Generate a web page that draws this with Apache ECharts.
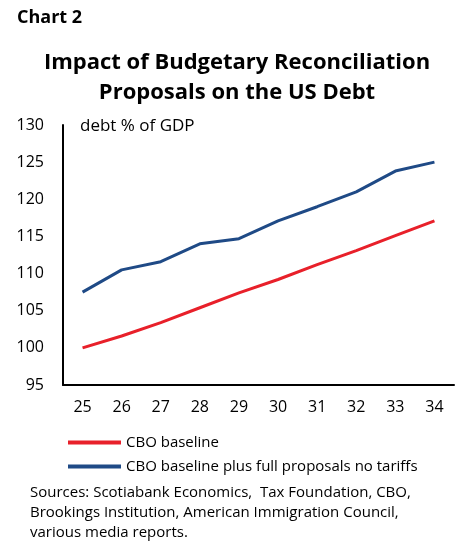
<!DOCTYPE html>
<html>
<head>
<meta charset="utf-8">
<script src="https://cdn.jsdelivr.net/npm/echarts@6/dist/echarts.min.js"></script>
<style>
  html, body { margin: 0; padding: 0; background: #fff; }
  #chart { width: 458px; height: 550px; }
</style>
</head>
<body>
<div id="chart"></div>
<script>
// years (20xx)
const years = ['25', '26', '27', '28', '29', '30', '31', '32', '33', '34']
// CBO baseline, debt % of GDP
const baseline = [100, 101.6, 103.4, 105.4, 107.4, 109.2, 111.2, 113.1, 115.1, 117.1]
// CBO baseline plus full proposals no tariffs
const fullProposals = [107.5, 110.5, 111.6, 114.0, 114.7, 117.1, 119.0, 121.0, 123.8, 125.0]
const seriesNames = ['CBO baseline', 'CBO baseline plus full proposals no tariffs']

const font = 'Open Sans'
const chart = echarts.init(document.getElementById('chart'))

chart.setOption({
  animation: false,
  textStyle: { fontFamily: font, color: '#000' },
  title: [
    {
      text: 'Chart 2',
      left: 12,
      top: 4,
      textStyle: { fontFamily: font, fontSize: 18, fontWeight: 'bold', color: '#000' }
    },
    {
      // centred lines, whole block a little right of the page centre
      text: 'Impact of Budgetary Reconciliation\nProposals on the US Debt',
      left: 232,
      top: 43,
      textAlign: 'center',
      textStyle: { fontFamily: font, fontSize: 22, fontWeight: 'bold', color: '#000', lineHeight: 30 }
    },
    {
      text: 'debt % of GDP',
      left: 75,
      top: 113,
      textStyle: { fontFamily: font, fontSize: 17, fontWeight: 'normal', color: '#000' }
    },
    {
      text: 'Sources: Scotiabank Economics,  Tax Foundation, CBO,\nBrookings Institution, American Immigration Council,\nvarious media reports.',
      left: 25,
      top: 478,
      textStyle: { fontFamily: font, fontSize: 15, fontWeight: 'normal', color: '#000', lineHeight: 20 }
    }
  ],
  legend: {
    orient: 'vertical',
    left: 63,
    top: 430,
    icon: 'rect',
    itemWidth: 53,
    itemHeight: 4,
    itemGap: 9,
    data: seriesNames,
    textStyle: { fontFamily: font, fontSize: 15, color: '#000' }
  },
  grid: { left: 63, right: 4, top: 125, bottom: 165, containLabel: false },
  xAxis: {
    type: 'category',
    data: years,
    boundaryGap: true,
    axisLine: { lineStyle: { color: '#000', width: 2 } },
    axisTick: { inside: true, length: 5, lineStyle: { color: '#000', width: 2 } },
    axisLabel: { fontFamily: font, fontSize: 16, color: '#000', margin: 14 },
    splitLine: { show: false }
  },
  yAxis: {
    type: 'value',
    min: 95,
    max: 130,
    interval: 5,
    axisLine: { show: true, lineStyle: { color: '#000', width: 2 } },
    axisTick: { show: false },
    axisLabel: { fontFamily: font, fontSize: 16, color: '#000', margin: 19 },
    splitLine: { show: false }
  },
  series: [
    {
      name: seriesNames[0],
      type: 'line',
      data: baseline,
      symbol: 'none',
      lineStyle: { color: '#e8202a', width: 3 },
      itemStyle: { color: '#e8202a' }
    },
    {
      name: seriesNames[1],
      type: 'line',
      data: fullProposals,
      symbol: 'none',
      lineStyle: { color: '#1f4a86', width: 3 },
      itemStyle: { color: '#1f4a86' }
    }
  ]
})
</script>
</body>
</html>
